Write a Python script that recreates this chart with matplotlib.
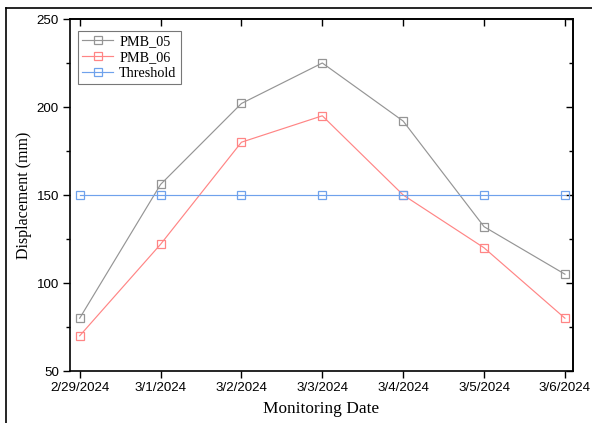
import matplotlib.pyplot as plt
from matplotlib.lines import Line2D
from matplotlib.ticker import MultipleLocator

dates = ['2/29/2024', '3/1/2024', '3/2/2024', '3/3/2024', '3/4/2024', '3/5/2024', '3/6/2024']
pmb_05 = [80, 156, 202, 225, 192, 132, 105]
pmb_06 = [70, 122, 180, 195, 150, 120, 80]
threshold = [150, 150, 150, 150, 150, 150, 150]

serif = 'Liberation Serif'
sans = 'Liberation Sans'

fig = plt.figure(figsize=(5.92, 4.23), dpi=100)
ax = fig.add_axes([70 / 592, 1 - 371 / 423, 503 / 592, 352 / 423])

x = list(range(len(dates)))
style = dict(marker='s', markersize=6.3, markerfacecolor='none', linewidth=0.85, markeredgewidth=0.9)
ax.plot(x, pmb_05, color='#959595', label='PMB_05', **style)
ax.plot(x, pmb_06, color='#ff8585', label='PMB_06', **style)
ax.plot(x, threshold, color='#6fa2ec', label='Threshold', **style)

ax.set_xlim(-0.12, 6.1)
ax.set_ylim(50, 250)
ax.set_xticks(x)
ax.set_xticklabels(dates, fontfamily=sans, fontsize=9.6)
ax.yaxis.set_major_locator(MultipleLocator(50))
ax.yaxis.set_minor_locator(MultipleLocator(25))
for lab in ax.get_yticklabels():
    lab.set_fontfamily(sans)
    lab.set_fontsize(9.6)

ax.tick_params(axis='both', which='major', direction='out', length=5, width=1.0, pad=3)
ax.tick_params(axis='y', which='minor', direction='out', length=3, width=1.0)

# top and right inward ticks
axt = ax.secondary_xaxis('top')
axt.set_xticks(x)
axt.tick_params(direction='in', length=5, width=1.0, labeltop=False)
axr = ax.secondary_yaxis('right')
axr.yaxis.set_major_locator(MultipleLocator(50))
axr.yaxis.set_minor_locator(MultipleLocator(25))
axr.tick_params(which='major', direction='in', length=5, width=1.0, labelright=False)
axr.tick_params(which='minor', direction='in', length=3, width=1.0)

for s in ax.spines.values():
    s.set_linewidth(1.2)
axt.spines['top'].set_linewidth(1.2)
axr.spines['right'].set_linewidth(1.2)

ax.set_xlabel('Monitoring Date', fontfamily=serif, fontsize=12.4, labelpad=5)
ax.set_ylabel('Displacement (mm)', fontfamily=serif, fontsize=11.5, labelpad=3)

leg = ax.legend(loc='upper left', bbox_to_anchor=(8 / 503, 1 - 12 / 352),
                prop={'family': serif, 'size': 10.2}, frameon=True,
                fancybox=False, edgecolor='#555555', borderpad=0.3, labelspacing=0.2,
                handlelength=2.2, handletextpad=0.4, borderaxespad=0.0)
leg.get_frame().set_linewidth(0.8)

# screenshot border (top and left)
fig.add_artist(Line2D([6 / 592, 1], [1 - 8 / 423, 1 - 8 / 423], color='black', linewidth=1.2, transform=fig.transFigure))
fig.add_artist(Line2D([6 / 592, 6 / 592], [0, 1 - 8 / 423], color='black', linewidth=1.2, transform=fig.transFigure))

fig.savefig('out.png', dpi=100)
